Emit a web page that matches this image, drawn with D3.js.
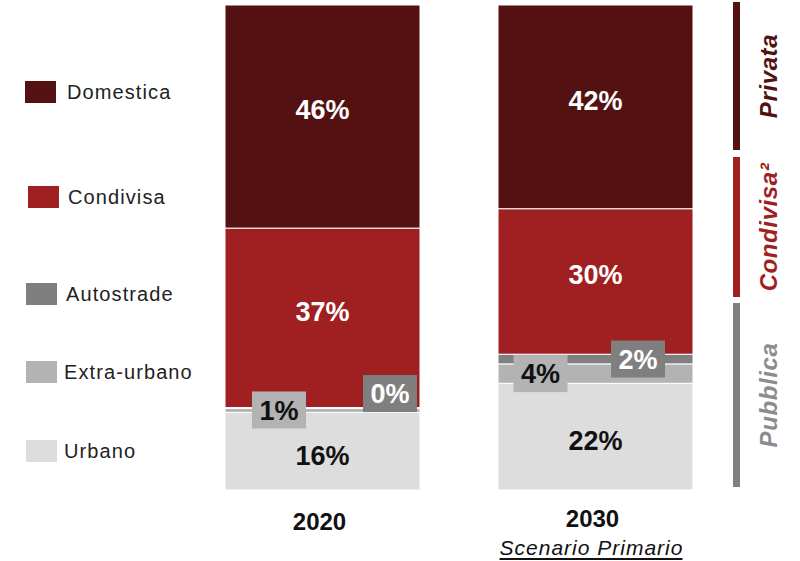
<!DOCTYPE html>
<html>
<head>
<meta charset="utf-8">
<script src="https://cdn.jsdelivr.net/npm/d3@7"></script>
<style>
  body { margin: 0; background: #fff; }
  svg { display: block; font-family: "Liberation Sans", Arial, sans-serif; }
</style>
</head>
<body>
<svg id="chart" width="800" height="561"></svg>
<script>
// --- data (percent shares) ---
const years = ["2020", "2030"];
const categories = ["Urbano", "Extra-urbano", "Autostrade", "Condivisa", "Domestica"];
const urbano = [16, 22];
const extraUrbano = [1, 4];
const autostrade = [0, 2];
const condivisa = [37, 30];
const domestica = [46, 42];
const groupNames = ["Privata", "Condivisa²", "Pubblica"];
const subtitle2030 = "Scenario Primario";

const colors = {
  "Domestica": "#531112",
  "Condivisa": "#a01f21",
  "Autostrade": "#7f7f7f",
  "Extra-urbano": "#b3b3b3",
  "Urbano": "#dddddd"
};

// build rows for the stack
const rows = years.map((y, i) => ({
  year: y,
  "Urbano": urbano[i],
  "Extra-urbano": extraUrbano[i],
  "Autostrade": autostrade[i],
  "Condivisa": condivisa[i],
  "Domestica": domestica[i]
}));

const svg = d3.select("#chart");

// --- scales ---
const x = d3.scaleBand().domain(years).range([225, 693]).paddingInner(78 / 273);
const y = d3.scaleLinear().domain([0, 100]).range([490, 5]);

const series = d3.stack().keys(categories)(rows);

// --- bars ---
const layers = svg.append("g").selectAll("g")
  .data(series)
  .join("g")
  .attr("fill", d => colors[d.key]);

layers.selectAll("rect")
  .data(d => d.map(v => ({ key: d.key, v })))
  .join("rect")
  .attr("x", d => x(d.v.data.year))
  .attr("width", x.bandwidth())
  .attr("y", d => y(d.v[1]))
  .attr("height", d => Math.max(1, y(d.v[0]) - y(d.v[1])))
  .attr("stroke", "#fff")
  .attr("stroke-width", 1);

// --- labels inside big segments ---
const bigKeys = ["Domestica", "Condivisa", "Urbano"];
const labelShift = { "Domestica": -7, "Condivisa": -7, "Urbano": 4 };
const labelG = svg.append("g")
  .attr("font-weight", "bold")
  .attr("font-size", 27)
  .attr("text-anchor", "middle");

series.filter(s => bigKeys.includes(s.key)).forEach(s => {
  labelG.selectAll(null)
    .data(s)
    .join("text")
    .attr("x", d => x(d.data.year) + x.bandwidth() / 2)
    .attr("y", d => y((d[0] + d[1]) / 2) + labelShift[s.key])
    .attr("dy", "0.36em")
    .attr("fill", s.key === "Urbano" ? "#111" : "#fff")
    .text(d => `${d.data[s.key]}%`);
});

// --- boxed labels for thin segments ---
// horizontal position of each box inside the bar (fraction of bar width)
const boxPos = {
  "Extra-urbano": { "2020": 0.277, "2030": 0.218 },
  "Autostrade": { "2020": 0.846, "2030": 0.718 }
};
const boxW = 54, boxH = 37;

series.filter(s => boxPos[s.key]).forEach(s => {
  const g = svg.append("g").selectAll("g")
    .data(s)
    .join("g")
    .attr("transform", d => {
      const cx = x(d.data.year) + x.bandwidth() * boxPos[s.key][d.data.year];
      let cy = y((d[0] + d[1]) / 2);
      if (s.key === "Autostrade" && d.data.year === "2020") cy -= 14;
      return `translate(${cx},${cy})`;
    });
  g.append("rect")
    .attr("x", -boxW / 2)
    .attr("y", -boxH / 2)
    .attr("width", boxW)
    .attr("height", boxH)
    .attr("fill", colors[s.key]);
  g.append("text")
    .attr("text-anchor", "middle")
    .attr("dy", "0.36em")
    .attr("font-weight", "bold")
    .attr("font-size", 27)
    .attr("fill", s.key === "Autostrade" ? "#fff" : "#111")
    .text(d => `${d.data[s.key]}%`);
});

// --- x axis (year labels) ---
const xAxis = svg.append("g")
  .attr("transform", "translate(-3, 500)")
  .call(d3.axisBottom(x).tickSize(0));
xAxis.select(".domain").remove();
xAxis.selectAll("text")
  .attr("font-family", "Liberation Sans, Arial, sans-serif")
  .attr("font-size", 24)
  .attr("font-weight", "bold")
  .attr("fill", "#111")
  .attr("y", d => d === "2030" ? 27 : 30)
  .attr("dy", 0);

// subtitle under 2030
const sub = svg.append("text")
  .attr("x", x("2030") + x.bandwidth() / 2 - 4)
  .attr("y", 555)
  .attr("text-anchor", "middle")
  .attr("font-size", 21)
  .attr("font-style", "italic")
  .attr("letter-spacing", 1)
  .attr("fill", "#111")
  .text(subtitle2030);
const sb = sub.node().getBBox();
svg.append("line")
  .attr("x1", sb.x).attr("x2", sb.x + sb.width - 1)
  .attr("y1", 559).attr("y2", 559)
  .attr("stroke", "#111").attr("stroke-width", 2);

// --- legend ---
const legendOrder = ["Domestica", "Condivisa", "Autostrade", "Extra-urbano", "Urbano"];
const legendY = [92, 197, 294, 372, 451];
const legendX = [25, 28, 26, 26, 26];
const legend = svg.append("g").selectAll("g")
  .data(legendOrder)
  .join("g")
  .attr("transform", (d, i) => `translate(${legendX[i]}, ${legendY[i]})`);
legend.append("rect")
  .attr("y", -11)
  .attr("width", 31)
  .attr("height", 22)
  .attr("fill", d => colors[d]);
legend.append("text")
  .attr("x", (d, i) => [42, 40, 40, 38, 38][i])
  .attr("dy", "0.36em")
  .attr("font-size", 20)
  .attr("letter-spacing", 1.1)
  .attr("fill", "#222")
  .text(d => d);

// --- right-side group brackets ---
const groupSpan = [[2, 150], [157, 297], [303, 487]];
const groupColors = ["#531112", "#a01f21", "#808080"];
const groupText = ["#531112", "#a01f21", "#8c8c8c"];
const grp = svg.append("g").selectAll("g")
  .data(groupNames)
  .join("g");
grp.append("rect")
  .attr("x", 733)
  .attr("y", (d, i) => groupSpan[i][0])
  .attr("width", 7)
  .attr("height", (d, i) => groupSpan[i][1] - groupSpan[i][0])
  .attr("fill", (d, i) => groupColors[i]);
grp.append("text")
  .attr("transform", (d, i) => `translate(768, ${(groupSpan[i][0] + groupSpan[i][1]) / 2}) rotate(-90)`)
  .attr("text-anchor", "middle")
  .attr("dy", "0.36em")
  .attr("font-size", 24)
  .attr("font-weight", "bold")
  .attr("font-style", "italic")
  .attr("letter-spacing", 0.6)
  .attr("fill", (d, i) => groupText[i])
  .text(d => d);
</script>
</body>
</html>
